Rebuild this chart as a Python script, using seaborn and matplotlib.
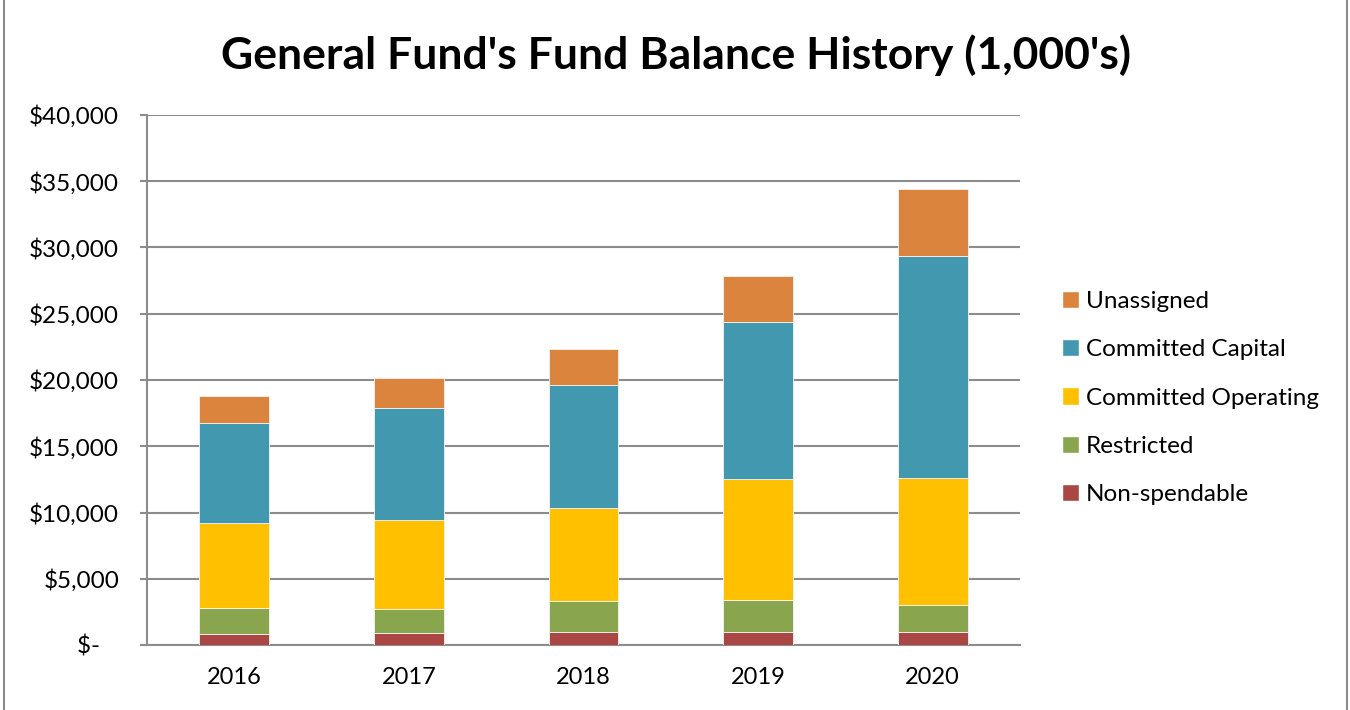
import matplotlib
matplotlib.use("Agg")
import matplotlib.pyplot as plt
import seaborn as sns
from matplotlib.patches import Patch
from matplotlib.ticker import FuncFormatter

# values in $1,000's
years = ["2016", "2017", "2018", "2019", "2020"]
non_spendable = [830, 900, 980, 980, 960]
restricted = [1970, 1840, 2320, 2440, 2060]
committed_operating = [6400, 6720, 7020, 9120, 9570]
committed_capital = [7540, 8420, 9340, 11830, 16740]
unassigned = [2060, 2290, 2670, 3480, 5110]

series = [
    ("Non-spendable", non_spendable, "#AA4643"),
    ("Restricted", restricted, "#89A54E"),
    ("Committed Operating", committed_operating, "#FFC000"),
    ("Committed Capital", committed_capital, "#4198AF"),
    ("Unassigned", unassigned, "#DB843D"),
]

sns.set_style("white")
plt.rcParams["font.family"] = ["Lato", "DejaVu Sans"]
plt.rcParams["text.color"] = "black"
plt.rcParams["xtick.color"] = "black"
plt.rcParams["ytick.color"] = "black"

fig = plt.figure(figsize=(13.5, 7.1), dpi=100)
ax = fig.add_axes([147 / 1350, 1 - 645 / 710, 873 / 1350, 530 / 710])

bottom = [0] * len(years)
for name, vals, color in series:
    sns.barplot(x=years, y=vals, bottom=bottom, color=color, saturation=1, width=0.4,
                edgecolor="#f4f4f4", linewidth=0.6, ax=ax, zorder=3)
    bottom = [b + v for b, v in zip(bottom, vals)]

ax.set_ylim(0, 40000)
ax.set_xlim(-0.5, 4.5)
ax.set_yticks(range(0, 40001, 5000))
ax.yaxis.set_major_formatter(FuncFormatter(lambda v, p: "$-   " if v == 0 else f"${v:,.0f}"))
ax.grid(axis="y", color="#8c8c8c", linewidth=1.5, zorder=0)
ax.set_axisbelow(True)
for s in ["top", "right"]:
    ax.spines[s].set_visible(False)
for s in ["left", "bottom"]:
    ax.spines[s].set_color("#8c8c8c")
    ax.spines[s].set_linewidth(1.5)
ax.tick_params(axis="y", left=True, length=5, width=1.5, color="#8c8c8c",
               labelcolor="black", labelsize=17.5, pad=15)
ax.tick_params(axis="x", bottom=False, labelcolor="black", labelsize=17, pad=12)
ax.set_xlabel("")
ax.set_ylabel("")

handles = [Patch(facecolor=c, label=n) for n, _, c in reversed(series)]
leg = fig.legend(handles=handles, loc="center left", bbox_to_anchor=(1040 / 1350, 1 - 398 / 710),
                 frameon=False, fontsize=17.5, handlelength=0.7, handleheight=0.7,
                 handletextpad=0.3, labelspacing=1.12)
for t in leg.get_texts():
    t.set_color("black")

fig.text(676 / 1350, 1 - 55 / 710, "General Fund's Fund Balance History (1,000's)",
         ha="center", va="center", fontsize=32, fontweight="bold", color="black")

# outer chart border
fig.patches.append(plt.Rectangle((4 / 1350, -0.01), 1343 / 1350, 1.02, transform=fig.transFigure,
                                 fill=False, edgecolor="#8c8c8c", linewidth=1.5))

fig.savefig("out.png", dpi=100)
